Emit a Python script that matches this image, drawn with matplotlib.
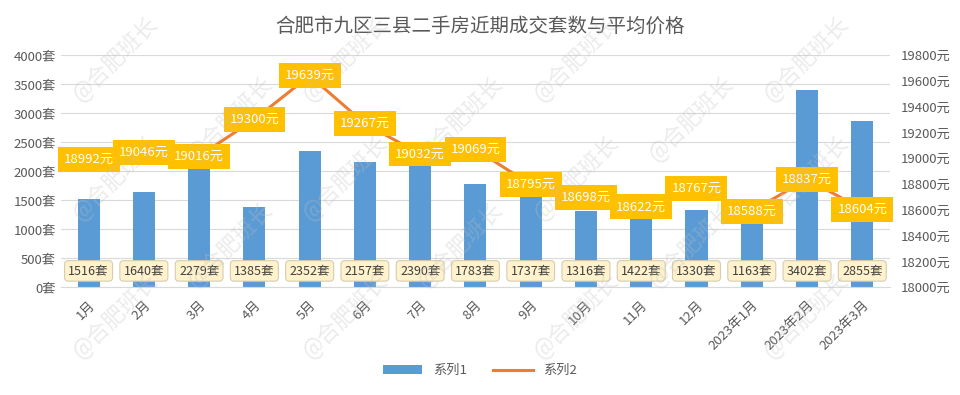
import matplotlib
matplotlib.use("Agg")
import matplotlib.pyplot as plt

plt.rcParams['font.family'] = ['Noto Sans CJK SC', 'DejaVu Sans']

months = ["1月", "2月", "3月", "4月", "5月", "6月", "7月", "8月", "9月",
          "10月", "11月", "12月", "2023年1月", "2023年2月", "2023年3月"]
deals = [1516, 1640, 2279, 1385, 2352, 2157, 2390, 1783, 1737,
         1316, 1422, 1330, 1163, 3402, 2855]
prices = [18992, 19046, 19016, 19300, 19639, 19267, 19032, 19069, 18795,
          18698, 18622, 18767, 18588, 18837, 18604]

fig = plt.figure(figsize=(9.6, 3.95), dpi=100)
ax = fig.add_axes([0.0635, 0.273, 0.8635, 0.588])
ax2 = ax.twinx()

x = list(range(len(months)))
ax.bar(x, deals, width=0.4, color="#5B9BD5", zorder=2, label="系列1")
ax.set_ylim(0, 4000)
ax.set_yticks(range(0, 4001, 500))
ax.set_yticklabels([f"{v}套" for v in range(0, 4001, 500)])
ax.set_xlim(-0.5, len(months) - 0.5)
ax.set_xticks(x)
ax.set_xticklabels(months, rotation=45, ha="right", rotation_mode="anchor")
ax.grid(axis="y", color="#D9D9D9", linewidth=0.8, zorder=0)
for s in ["top", "right", "left"]:
    ax.spines[s].set_visible(False)
ax.spines["bottom"].set_color("#D9D9D9")
ax.tick_params(axis="both", length=0, colors="#595959", labelsize=9.5)
ax.tick_params(axis="x", pad=8)

for xi, d in zip(x, deals):
    ax.text(xi, 280, f"{d}套", ha="center", va="center", fontsize=9, color="#404040",
            zorder=4, bbox=dict(boxstyle="round,pad=0.3,rounding_size=0.3",
                                fc="#FFF2CC", ec="#D6CDB0", lw=0.8))

ln, = ax2.plot(x, prices, color="#ED7D31", linewidth=2.2, zorder=3, label="系列2")
ax2.set_ylim(18000, 19800)
ax2.set_yticks(range(18000, 19801, 200))
ax2.set_yticklabels([f"{v}元" for v in range(18000, 19801, 200)])
for s in ["top", "right", "left", "bottom"]:
    ax2.spines[s].set_visible(False)
ax2.tick_params(axis="y", length=0, colors="#595959", labelsize=9.5, pad=8)
for xi, p in zip(x, prices):
    ax2.text(xi, p, f"{p}元", ha="center", va="center", fontsize=9.5, color="white",
             zorder=5, bbox=dict(boxstyle="square,pad=0.45", fc="#FFC000", ec="none"))

fig.suptitle("合肥市九区三县二手房近期成交套数与平均价格", x=0.5, y=0.96,
             fontsize=14, color="#595959")

h1, l1 = ax.get_legend_handles_labels()
fig.legend(h1 + [ln], l1 + ["系列2"], loc="lower center", bbox_to_anchor=(0.5, 0.015),
           ncol=2, frameon=False, fontsize=9.5, handlelength=3,
           labelcolor="#595959")

# watermarks
for wx in [0.12, 0.36, 0.6, 0.84]:
    for wy in [0.2, 0.55, 0.85]:
        fig.text(wx, wy, "@合肥班长", rotation=45, fontsize=16, color="#BFBFBF",
                 alpha=0.3, ha="center", va="center", zorder=10)
for wx in [0.24, 0.48, 0.72]:
    for wy in [0.38, 0.7]:
        fig.text(wx, wy, "@合肥班长", rotation=45, fontsize=16, color="#BFBFBF",
                 alpha=0.3, ha="center", va="center", zorder=10)

fig.savefig("out.png", dpi=100)
